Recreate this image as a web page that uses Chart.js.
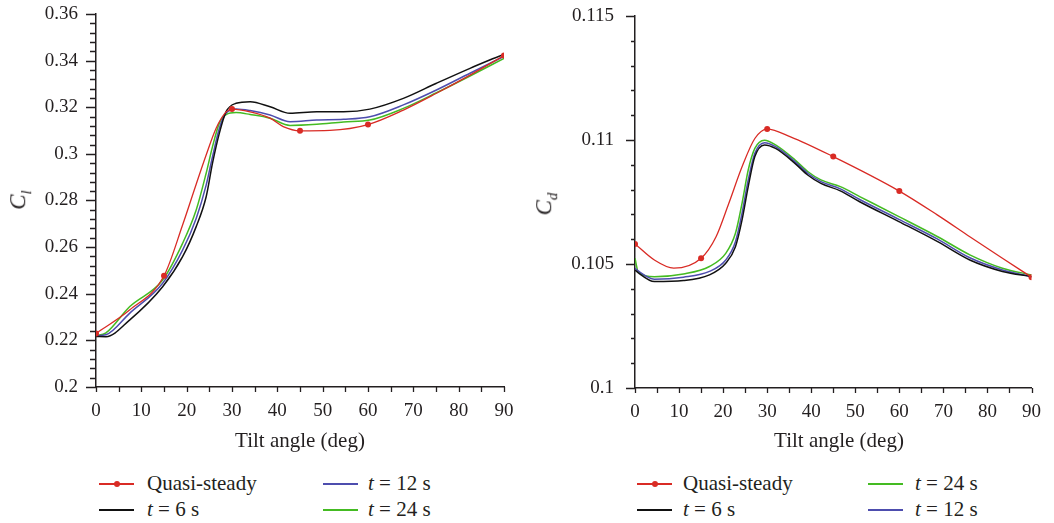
<!DOCTYPE html>
<html>
<head>
<meta charset="utf-8">
<script src="https://cdn.jsdelivr.net/npm/chart.js@4.4.1/dist/chart.umd.min.js"></script>
<style>
    body { margin: 0; background: #fff; width: 1054px; height: 523px; position: relative; overflow: hidden;
           font-family: "Liberation Serif", "DejaVu Serif", serif; color: #231f20; }
    canvas { position: absolute; top: 0; }
    #chart-cl { left: 0; }
    #chart-cd { left: 530px; }
    .titulo { position: absolute; font-size: 21px; white-space: nowrap; line-height: 1; }
    .titulo-y { transform: translate(-50%, -50%) rotate(-90deg); font-style: italic; font-size: 23px; }
    .titulo-x { transform: translate(-50%, -50%); }
    .titulo sub { font-size: 15px; }
    .leyenda-texto { position: absolute; font-size: 21px; line-height: 26px; white-space: nowrap; }
    .leyenda-linea { position: absolute; width: 35px; height: 2px; }
    .leyenda-punto { position: absolute; width: 6px; height: 6px; border-radius: 50%; }
</style>
</head>
<body>
<canvas id="chart-cl" width="530" height="460"></canvas>
<canvas id="chart-cd" width="524" height="460"></canvas>

<div class="titulo titulo-y" style="left:20px; top:200px;"><i>C</i><sub><i>l</i></sub></div>
<div class="titulo titulo-x" style="left:300px; top:440px;">Tilt angle (deg)</div>
<div class="titulo titulo-y" style="left:546px; top:204px;"><i>C</i><sub><i>d</i></sub></div>
<div class="titulo titulo-x" style="left:839px; top:440px;">Tilt angle (deg)</div>

<script>
// ---- datos: coeficiente de sustentacion (Cl) ----
const anguloClQs = [0, 7.4, 15, 19.1, 22.1, 24.3, 26.5, 28.7, 30, 34, 38.4, 41.3, 45, 51.6, 60, 67.8, 75.1, 82.5, 90];
const clQs = [0.2230, 0.2330, 0.2477, 0.2695, 0.2870, 0.2995, 0.3110, 0.3180, 0.3192, 0.3180, 0.3153, 0.3117, 0.3099, 0.3101, 0.3126, 0.3188, 0.3260, 0.3338, 0.3422];
const anguloCl = [0, 2.2, 7.4, 14.7, 19.1, 22.1, 24.3, 25.7, 27.2, 28.7, 30.9, 34, 38.4, 42.8, 48.7, 54.6, 60.4, 67.8, 75.1, 82.5, 90];
const clT6 = [0.2217, 0.2216, 0.2287, 0.2430, 0.2559, 0.2688, 0.2816, 0.2960, 0.3088, 0.3181, 0.3217, 0.3224, 0.3202, 0.3174, 0.3181, 0.3181, 0.3192, 0.3238, 0.3303, 0.3367, 0.3428];
const clT12 = [0.2220, 0.2224, 0.2316, 0.2445, 0.2587, 0.2723, 0.2866, 0.2988, 0.3109, 0.3175, 0.3193, 0.3186, 0.3167, 0.3138, 0.3145, 0.3148, 0.3159, 0.3210, 0.3274, 0.3346, 0.3418];
const clT24 = [0.2220, 0.2232, 0.2344, 0.2459, 0.2616, 0.2759, 0.2917, 0.3031, 0.3131, 0.3168, 0.3177, 0.3169, 0.3153, 0.3122, 0.3127, 0.3137, 0.3145, 0.3195, 0.3262, 0.3334, 0.3410];
const ticksCl = [0.2, 0.22, 0.24, 0.26, 0.28, 0.3, 0.32, 0.34, 0.36];
const etiquetasCl = ["0.2", "0.22", "0.24", "0.26", "0.28", "0.3", "0.32", "0.34", "0.36"];

// ---- datos: coeficiente de arrastre (Cd) ----
const anguloCdQs = [0, 4.4, 8.8, 15, 18.4, 21.3, 24.3, 27.2, 30, 35.3, 45, 60, 68.6, 76, 83.4, 90];
const cdQs = [0.10581, 0.10516, 0.10483, 0.10523, 0.10610, 0.10745, 0.10892, 0.11006, 0.11044, 0.11013, 0.10933, 0.10794, 0.10698, 0.10610, 0.10523, 0.10447];
const anguloCd = [0, 0.7, 4.4, 11, 16.9, 20.6, 22.8, 24.3, 25.7, 27.2, 29.4, 31.9, 36.3, 39.2, 42.2, 46.6, 51, 59.9, 68.7, 76, 83.4, 90];
const cdT6 = [0.10476, 0.10465, 0.10429, 0.10433, 0.10456, 0.10503, 0.10570, 0.10678, 0.10812, 0.10933, 0.10980, 0.10966, 0.10906, 0.10859, 0.10825, 0.10795, 0.10751, 0.10671, 0.10590, 0.10516, 0.10470, 0.10449];
const cdT12 = [0.10483, 0.10472, 0.10439, 0.10447, 0.10470, 0.10516, 0.10590, 0.10705, 0.10839, 0.10946, 0.10989, 0.10973, 0.10913, 0.10866, 0.10832, 0.10803, 0.10760, 0.10680, 0.10600, 0.10525, 0.10476, 0.10449];
const cdT24 = [0.10523, 0.10470, 0.10449, 0.10460, 0.10490, 0.10543, 0.10624, 0.10745, 0.10879, 0.10966, 0.10999, 0.10980, 0.10920, 0.10873, 0.10839, 0.10812, 0.10772, 0.10691, 0.10610, 0.10537, 0.10483, 0.10456];
const ticksCd = [0.1, 0.105, 0.11, 0.115];
const etiquetasCd = ["0.1", "0.105", "0.11", "0.115"];

const ticksAngulo = [0, 10, 20, 30, 40, 50, 60, 70, 80, 90];
const angulosConMarca = [0, 15, 30, 45, 60, 90];

const colores = { qs: "#d92b25", t6: "#111111", t12: "#4d4dae", t24: "#44bb22" };
const fuente = { family: "'Liberation Serif', 'DejaVu Serif', serif", size: 19 };
const tinta = "#231f20";

function puntos(xs, ys) {
    return xs.map((x, i) => ({ x: x, y: ys[i] }));
}

function serie(etiqueta, xs, ys, color, conMarcas) {
    return {
        label: etiqueta,
        data: puntos(xs, ys),
        borderColor: color,
        backgroundColor: color,
        borderWidth: conMarcas ? 1.3 : 1.5,
        cubicInterpolationMode: "monotone",
        pointRadius: conMarcas ? (c => angulosConMarca.includes(c.raw.x) ? 3 : 0) : 0,
        pointBorderWidth: 0,
        pointHoverRadius: 0
    };
}

// marcas de los ejes (mayores y menores), dibujadas con las escalas del grafico
const marcasEjes = {
    id: "marcasEjes",
    afterDraw(chart, args, opts) {
        const ctx = chart.ctx;
        const ejeX = chart.scales.x;
        const ejeY = chart.scales.y;
        const area = chart.chartArea;
        ctx.save();
        ctx.strokeStyle = tinta;
        ctx.lineWidth = 1.3;
        ctx.beginPath();
        for (let i = 0; i <= opts.yPasos; i++) {
            const v = ejeY.min + i * (ejeY.max - ejeY.min) / opts.yPasos;
            const p = Math.round(ejeY.getPixelForValue(v)) + 0.5;
            const largo = (i % opts.yCada === 0) ? opts.yLargo : opts.yCorto;
            ctx.moveTo(area.left - largo, p);
            ctx.lineTo(area.left, p);
        }
        for (let i = 0; i <= 18; i++) {
            const p = Math.round(ejeX.getPixelForValue(i * 5)) + 0.5;
            ctx.moveTo(p, area.bottom);
            ctx.lineTo(p, area.bottom + 5);
        }
        ctx.stroke();
        ctx.restore();
    }
};

function crearGrafico(id, datasets, yTicks, yEtiquetas, cfg) {
    return new Chart(document.getElementById(id), {
        type: "line",
        data: { datasets: datasets },
        options: {
            responsive: false,
            animation: false,
            events: [],
            layout: { padding: cfg.padding },
            plugins: {
                legend: { display: false },
                tooltip: { enabled: false },
                marcasEjes: cfg.marcas
            },
            scales: {
                x: {
                    type: "linear",
                    min: 0,
                    max: 90,
                    afterBuildTicks: s => { s.ticks = ticksAngulo.map(v => ({ value: v })); },
                    afterFit: s => { s.height = cfg.altoX; },
                    grid: { display: false, drawTicks: false },
                    border: { display: true, color: tinta, width: 1.5 },
                    ticks: { color: tinta, font: fuente, padding: 13, maxRotation: 0, autoSkip: false }
                },
                y: {
                    type: "linear",
                    min: yTicks[0],
                    max: yTicks[yTicks.length - 1],
                    afterBuildTicks: s => { s.ticks = yTicks.map(v => ({ value: v })); },
                    afterFit: s => { s.width = cfg.anchoY; s.paddingTop = 0; s.paddingBottom = 0; },
                    grid: { display: false, drawTicks: false },
                    border: { display: true, color: tinta, width: 1.5 },
                    ticks: {
                        color: tinta, font: fuente, padding: cfg.padY, autoSkip: false,
                        callback: (v, i) => yEtiquetas[i]
                    }
                }
            }
        },
        plugins: [marcasEjes]
    });
}

crearGrafico("chart-cl", [
    serie("Quasi-steady", anguloClQs, clQs, colores.qs, true),
    serie("t = 6 s", anguloCl, clT6, colores.t6, false),
    serie("t = 12 s", anguloCl, clT12, colores.t12, false),
    serie("t = 24 s", anguloCl, clT24, colores.t24, false)
], ticksCl, etiquetasCl, {
    padding: { top: 14, right: 26, left: 0, bottom: 0 },
    anchoY: 96, altoX: 73, padY: 18,
    marcas: { yPasos: 40, yCada: 5, yLargo: 10, yCorto: 6 }
});

crearGrafico("chart-cd", [
    serie("Quasi-steady", anguloCdQs, cdQs, colores.qs, true),
    serie("t = 6 s", anguloCd, cdT6, colores.t6, false),
    serie("t = 12 s", anguloCd, cdT12, colores.t12, false),
    serie("t = 24 s", anguloCd, cdT24, colores.t24, false)
], ticksCd, etiquetasCd, {
    padding: { top: 16, right: 11, left: 0, bottom: 0 },
    anchoY: 105, altoX: 72, padY: 21,
    marcas: { yPasos: 15, yCada: 5, yLargo: 9, yCorto: 4 }
});

// leyendas en HTML (texto con t en cursiva)
function agregarLeyenda(items) {
    items.forEach(it => {
        const linea = document.createElement("div");
        linea.className = "leyenda-linea";
        linea.style.left = it.x + "px";
        linea.style.top = (it.y - 1) + "px";
        linea.style.background = it.color;
        document.body.appendChild(linea);
        if (it.punto) {
            const p = document.createElement("div");
            p.className = "leyenda-punto";
            p.style.left = (it.x + 14.5) + "px";
            p.style.top = (it.y - 3) + "px";
            p.style.background = it.color;
            document.body.appendChild(p);
        }
        const texto = document.createElement("div");
        texto.className = "leyenda-texto";
        texto.style.left = (it.x + it.gap) + "px";
        texto.style.top = (it.y - 14) + "px";
        texto.innerHTML = it.html;
        document.body.appendChild(texto);
    });
}

agregarLeyenda([
    { x: 99, y: 484, gap: 48, color: colores.qs, punto: true, html: "Quasi-steady" },
    { x: 99, y: 510, gap: 48, color: colores.t6, html: "<i>t</i> = 6 s" },
    { x: 323, y: 484, gap: 45, color: colores.t12, html: "<i>t</i> = 12 s" },
    { x: 323, y: 510, gap: 45, color: colores.t24, html: "<i>t</i> = 24 s" },
    { x: 637, y: 484, gap: 46, color: colores.qs, punto: true, html: "Quasi-steady" },
    { x: 637, y: 510, gap: 46, color: colores.t6, html: "<i>t</i> = 6 s" },
    { x: 868, y: 484, gap: 47, color: colores.t24, html: "<i>t</i> = 24 s" },
    { x: 868, y: 510, gap: 47, color: colores.t12, html: "<i>t</i> = 12 s" }
]);
</script>
</body>
</html>
